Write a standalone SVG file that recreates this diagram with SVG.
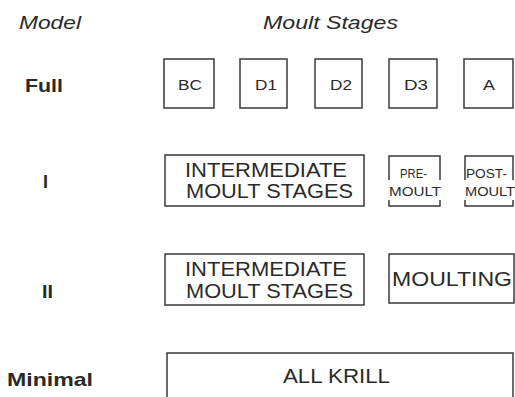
<svg xmlns="http://www.w3.org/2000/svg" width="515" height="397" viewBox="0 0 515 397">
<style>
.bg{fill:#ffffff}
.box{fill:none;stroke:#3a3a3a;stroke-width:1.5}
.t{font-family:"Liberation Sans",Arial,Helvetica,sans-serif;fill:#2a2a2a}
.hd{font-size:19px;font-style:italic}
.lbl{font-size:19px;font-weight:bold}
.s{font-size:15px}
.m{font-size:20px}
.sm{font-size:12px}
</style>
<rect class="bg" x="0" y="0" width="515" height="397"/>
<g id="headers">
<text class="t hd" x="19" y="29" textLength="62" lengthAdjust="spacingAndGlyphs">Model</text>
<text class="t hd" x="263" y="29" textLength="135" lengthAdjust="spacingAndGlyphs">Moult Stages</text>
</g>
<g id="model-labels">
<text class="t lbl" x="25" y="92" textLength="38" lengthAdjust="spacingAndGlyphs">Full</text>
<text class="t lbl" x="43" y="188" textLength="5" lengthAdjust="spacingAndGlyphs">I</text>
<text class="t lbl" x="42" y="298" textLength="11" lengthAdjust="spacingAndGlyphs">II</text>
<text class="t lbl" x="7" y="386" textLength="86" lengthAdjust="spacingAndGlyphs">Minimal</text>
</g>
<g id="full-BC">
<rect class="box" x="164" y="59" width="50" height="49"/>
<text class="t s" x="178" y="90" textLength="24" lengthAdjust="spacingAndGlyphs">BC</text>
</g>
<g id="full-D1">
<rect class="box" x="240" y="59" width="47" height="49"/>
<text class="t s" x="255" y="90" textLength="22" lengthAdjust="spacingAndGlyphs">D1</text>
</g>
<g id="full-D2">
<rect class="box" x="315" y="59" width="47" height="49"/>
<text class="t s" x="330" y="90" textLength="22" lengthAdjust="spacingAndGlyphs">D2</text>
</g>
<g id="full-D3">
<rect class="box" x="389" y="59" width="48" height="49"/>
<text class="t s" x="404" y="90" textLength="24" lengthAdjust="spacingAndGlyphs">D3</text>
</g>
<g id="full-A">
<rect class="box" x="464" y="59" width="49" height="49"/>
<text class="t s" x="483" y="90" textLength="12" lengthAdjust="spacingAndGlyphs">A</text>
</g>
<g id="I-intermediate">
<rect class="box" x="165" y="155" width="199" height="51"/>
<text class="t m" x="185" y="177" textLength="162" lengthAdjust="spacingAndGlyphs">INTERMEDIATE</text>
<text class="t m" x="186" y="198" textLength="167" lengthAdjust="spacingAndGlyphs">MOULT STAGES</text>
</g>
<g id="I-premoult">
<path class="box" d="M389,180 V156 H440 V180 M389,200 V206 H440 V200"/>
<text class="t sm" x="400" y="178" textLength="27" lengthAdjust="spacingAndGlyphs">PRE-</text>
<text class="t sm" x="389" y="196" textLength="52" lengthAdjust="spacingAndGlyphs">MOULT</text>
</g>
<g id="I-postmoult">
<path class="box" d="M465,180 V156 H513 V180 M465,200 V206 H513 V200"/>
<text class="t sm" x="466" y="178" textLength="41" lengthAdjust="spacingAndGlyphs">POST-</text>
<text class="t sm" x="465" y="196" textLength="50" lengthAdjust="spacingAndGlyphs">MOULT</text>
</g>
<g id="II-intermediate">
<rect class="box" x="165" y="254" width="199" height="51"/>
<text class="t m" x="185" y="276" textLength="162" lengthAdjust="spacingAndGlyphs">INTERMEDIATE</text>
<text class="t m" x="186" y="298" textLength="167" lengthAdjust="spacingAndGlyphs">MOULT STAGES</text>
</g>
<g id="II-moulting">
<rect class="box" x="389" y="254" width="125" height="49"/>
<text class="t m" x="392" y="286" textLength="120" lengthAdjust="spacingAndGlyphs">MOULTING</text>
</g>
<g id="minimal-all">
<path class="box" d="M167,400 V353 H513 V400"/>
<text class="t m" x="283" y="383" textLength="107" lengthAdjust="spacingAndGlyphs">ALL KRILL</text>
</g>
<g id="connectors"></g>
</svg>
